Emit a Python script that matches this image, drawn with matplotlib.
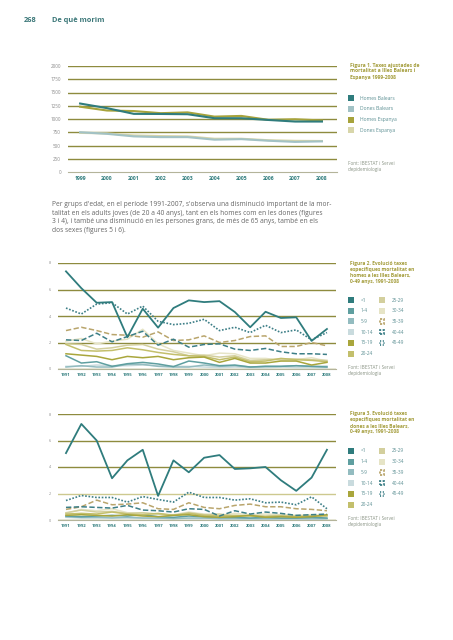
import matplotlib
matplotlib.use('Agg')
import matplotlib.pyplot as plt
from matplotlib.patches import Rectangle
from matplotlib.ticker import MultipleLocator

W, H = 453, 640
plt.rcParams['font.family'] = ['Open Sans', 'DejaVu Sans']

# ---------------- data ----------------
years1 = [1999, 2000, 2001, 2002, 2003, 2004, 2005, 2006, 2007, 2008]
homes_balears = [1292, 1205, 1097, 1095, 1090, 1015, 1015, 982, 952, 952]
dones_balears = [750, 720, 672, 658, 658, 610, 620, 590, 568, 578]
homes_espanya = [1232, 1160, 1150, 1110, 1125, 1045, 1058, 985, 995, 972]
dones_espanya = [738, 728, 690, 678, 672, 628, 628, 600, 588, 585]
series1_labels = ['Homes Balears', 'Dones Balears', 'Homes Espanya', 'Dones Espanya']

years = list(range(1991, 2009))
age_groups = ['<1', '1-4', '5-9', '10-14', '15-19', '20-24',
              '25-29', '30-34', '35-39', '40-44', '45-49']

# Figure 2: men
m_lt1 = [7.37, 6.1, 5.0, 5.05, 2.4, 4.55, 3.12, 4.6, 5.18, 5.05, 5.12, 4.3, 3.15, 4.32, 3.85, 3.9, 2.12, 3.02]
m_1_4 = [1.0, 0.45, 0.55, 0.2, 0.4, 0.5, 0.38, 0.18, 0.6, 0.45, 0.25, 0.3, 0.15, 0.2, 0.2, 0.25, 0.2, 0.15]
m_5_9 = [0.15, 0.25, 0.15, 0.15, 0.35, 0.35, 0.2, 0.15, 0.15, 0.3, 0.2, 0.25, 0.15, 0.2, 0.2, 0.25, 0.2, 0.2]
m_10_14 = [0.2, 0.2, 0.3, 0.25, 0.25, 0.3, 0.25, 0.2, 0.2, 0.15, 0.1, 0.15, 0.1, 0.1, 0.15, 0.1, 0.1, 0.1]
m_15_19 = [1.15, 1.05, 0.95, 0.7, 0.95, 0.85, 0.95, 0.7, 0.85, 0.9, 0.5, 0.8, 0.45, 0.45, 0.6, 0.6, 0.3, 0.5]
m_20_24 = [1.85, 1.4, 1.35, 1.4, 1.6, 1.45, 1.25, 1.1, 1.0, 0.95, 0.7, 0.9, 0.55, 0.6, 0.8, 0.7, 0.65, 0.55]
m_25_29 = [1.9, 1.85, 1.5, 1.6, 1.8, 1.85, 1.5, 1.3, 1.0, 1.05, 0.9, 1.0, 0.65, 0.7, 0.75, 0.75, 0.7, 0.65]
m_30_34 = [2.1, 2.3, 1.9, 2.1, 2.25, 3.0, 1.9, 1.4, 1.2, 1.0, 1.2, 1.15, 0.8, 0.8, 0.65, 0.7, 0.85, 0.6]
m_35_39 = [2.9, 3.15, 2.9, 2.6, 2.55, 2.4, 2.8, 2.15, 2.2, 2.5, 2.0, 2.15, 2.45, 2.5, 1.7, 1.7, 2.0, 1.75]
m_40_44 = [2.2, 2.15, 2.7, 2.05, 2.45, 2.85, 1.8, 2.25, 1.65, 1.85, 1.9, 1.5, 1.4, 1.55, 1.3, 1.15, 1.15, 1.1]
m_45_49 = [4.6, 4.15, 4.9, 5.0, 4.15, 4.75, 3.6, 3.35, 3.45, 3.75, 2.9, 3.15, 2.75, 3.3, 2.75, 2.95, 2.2, 2.75]

# Figure 3: women
w_lt1 = [5.05, 7.25, 6.0, 3.15, 4.5, 5.3, 1.82, 4.5, 3.6, 4.7, 4.9, 3.85, 3.9, 4.0, 3.0, 2.2, 3.2, 5.3]
w_1_4 = [0.3, 0.25, 0.3, 0.35, 0.3, 0.4, 0.25, 0.2, 0.3, 0.25, 0.2, 0.2, 0.15, 0.2, 0.15, 0.15, 0.2, 0.15]
w_5_9 = [0.25, 0.2, 0.2, 0.15, 0.2, 0.15, 0.15, 0.1, 0.15, 0.15, 0.1, 0.1, 0.1, 0.1, 0.1, 0.1, 0.1, 0.1]
w_10_14 = [0.2, 0.15, 0.15, 0.2, 0.15, 0.15, 0.1, 0.15, 0.1, 0.1, 0.1, 0.1, 0.1, 0.05, 0.1, 0.1, 0.05, 0.1]
w_15_19 = [0.35, 0.4, 0.35, 0.3, 0.4, 0.3, 0.25, 0.35, 0.4, 0.25, 0.2, 0.25, 0.35, 0.2, 0.25, 0.2, 0.25, 0.4]
w_20_24 = [0.45, 0.5, 0.45, 0.6, 0.45, 0.4, 0.5, 0.35, 0.5, 0.35, 0.3, 0.35, 0.3, 0.25, 0.3, 0.25, 0.3, 0.3]
w_25_29 = [0.55, 0.75, 0.6, 0.65, 0.5, 0.55, 0.45, 0.35, 0.55, 0.4, 0.45, 0.3, 0.35, 0.3, 0.35, 0.3, 0.3, 0.35]
w_30_34 = [0.5, 0.8, 0.7, 0.85, 0.55, 0.5, 0.45, 0.4, 0.6, 0.45, 0.35, 0.5, 0.4, 0.45, 0.4, 0.35, 0.4, 0.35]
w_35_39 = [0.8, 1.0, 1.5, 1.15, 1.2, 1.3, 0.85, 0.8, 1.3, 0.95, 0.85, 1.1, 1.2, 1.0, 1.0, 0.85, 0.8, 0.7]
w_40_44 = [0.95, 1.0, 0.95, 0.9, 1.1, 0.75, 0.7, 0.6, 0.85, 0.8, 0.3, 0.7, 0.45, 0.6, 0.5, 0.35, 0.4, 0.45]
w_45_49 = [1.47, 1.85, 1.7, 1.7, 1.35, 1.77, 1.55, 1.35, 2.1, 1.7, 1.7, 1.5, 1.6, 1.3, 1.35, 1.15, 1.75, 0.85]

men = [m_lt1, m_1_4, m_5_9, m_10_14, m_15_19, m_20_24, m_25_29, m_30_34, m_35_39, m_40_44, m_45_49]
women = [w_lt1, w_1_4, w_5_9, w_10_14, w_15_19, w_20_24, w_25_29, w_30_34, w_35_39, w_40_44, w_45_49]

# ---------------- styles ----------------
TEAL = '#2f7c7d'
OLIVE_GRID = '#8e8b3e'
TITLE_C = '#a39c3a'
LEG_TXT = '#5d9094'
SRC_C = '#8a9485'
c1 = ['#2f7c7d', '#a2c2c5', '#a7a33b', '#d8d6aa']
age_colors = ['#2f7c7d', '#5f9fa0', '#93bcc0', '#c9dbde', '#a9a63c', '#c3bf6c',
              '#d3cf9d', '#e6e4c6', '#b9a56c', '#3d7f87', '#3d7f87']
age_ls = ['-'] * 8 + [(0, (3.5, 1.6)), (0, (3.5, 1.6)), (0, (1.0, 1.0))]
age_lw = [1.3] + [1.1] * 7 + [1.1, 1.1, 1.2]
draw_order = [3, 2, 1, 7, 6, 5, 4, 8, 9, 10, 0]

fig = plt.figure(figsize=(W / 100, H / 100), dpi=100)


def rect(l, r, t, b):
    return [l / W, 1 - b / H, (r - l) / W, (b - t) / H]


def ftext(x, y, s, **kw):
    fig.text(x / W, 1 - y / H, s, va='center', ha=kw.pop('ha', 'left'), **kw)


def swatch(x, y, color, ls=None):
    if ls is None:
        p = Rectangle((x / W, 1 - (y + 3) / H), 6 / W, 6 / H, transform=fig.transFigure,
                      facecolor=color, edgecolor='none')
    else:
        p = Rectangle(((x + 0.8) / W, 1 - (y + 2.2) / H), 4.4 / W, 4.4 / H, transform=fig.transFigure,
                      facecolor='white', edgecolor=color, linewidth=1.3, linestyle=ls)
    fig.add_artist(p)


def style_axes(ax, xlabsize, ylabsize, grid_c=OLIVE_GRID):
    for s in ['top', 'right', 'left']:
        ax.spines[s].set_visible(False)
    ax.spines['bottom'].set_color('#b4b49a')
    ax.spines['bottom'].set_linewidth(0.8)
    ax.grid(axis='y', color=grid_c, linewidth=1.0)
    ax.set_axisbelow(True)
    ax.tick_params(axis='y', length=0, labelsize=ylabsize, labelcolor='#8a8a8a', pad=5)
    ax.tick_params(axis='x', which='major', length=0, labelsize=xlabsize, labelcolor=TEAL, pad=3)
    ax.xaxis.set_minor_locator(MultipleLocator(1))
    ax.tick_params(axis='x', which='minor', length=2, width=0.5, color='#999999')
    for lab in ax.get_xticklabels():
        lab.set_fontweight('bold')


# ---------------- header ----------------
ftext(24, 20, '268', fontsize=5.3, fontweight='bold', color='#3b7778')
ftext(52, 20, 'De què morim', fontsize=5.3, fontweight='bold', color='#3b7778')

# ---------------- Figure 1 ----------------
ax1 = fig.add_axes(rect(68, 337, 66, 172))
for vals, c in zip([dones_espanya, dones_balears, homes_espanya, homes_balears],
                   [c1[3], c1[1], c1[2], c1[0]]):
    ax1.plot(years1, vals, color=c, linewidth=1.5, solid_joinstyle='round')
ax1.set_ylim(0, 2000)
ax1.set_yticks(range(0, 2001, 250))
ax1.set_xlim(1998.55, 2008.56)
ax1.set_xticks(years1)
style_axes(ax1, 3.7, 3.3)
ax1.yaxis.get_gridlines()[0].set_visible(False)

fig.text(350 / W, 1 - 62.5 / H, 'Figura 1. Taxes ajustades de\nmortalitat a Illes Balears i\nEspanya 1999-2008',
         fontsize=3.65, fontweight='bold', color=TITLE_C, linespacing=1.25, va='top')
for i, (lab, c) in enumerate(zip(series1_labels, c1)):
    y = 98 + i * 10.8
    swatch(348, y, c)
    ftext(360, y, lab, fontsize=3.6, color=LEG_TXT)
fig.text(348 / W, 1 - 161 / H, "Font: IBESTAT i Servei\nd'epidemiologia",
         fontsize=3.35, color=SRC_C, linespacing=1.3, va='top')

# ---------------- paragraph ----------------
para = ["Per grups d'edat, en el període 1991-2007, s'observa una disminució important de la mor-",
        "talitat en els adults joves (de 20 a 40 anys), tant en els homes com en les dones (figures",
        "3 i 4), i també una disminució en les persones grans, de més de 65 anys, també en els",
        "dos sexes (figures 5 i 6)."]
for i, line in enumerate(para):
    ftext(52, 205 + i * 8.4, line, fontsize=4.75, color='#666666')


# ---------------- Figures 2 and 3 ----------------
def age_chart(top, data, title, grid2_c):
    ax = fig.add_axes(rect(58, 336, top, top + 106))
    for k in draw_order:
        ax.plot(years, data[k], color=age_colors[k], linestyle=age_ls[k],
                linewidth=age_lw[k], solid_joinstyle='round')
    ax.set_ylim(0, 8)
    ax.set_yticks([0, 2, 4, 6, 8])
    ax.set_xlim(1990.48, 2008.59)
    ax.set_xticks(years)
    style_axes(ax, 3.05, 2.7)
    ax.yaxis.get_gridlines()[1].set_color(grid2_c)
    fig.text(350 / W, 1 - (top - 2.5) / H, title, fontsize=3.55, fontweight='bold',
             color=TITLE_C, linespacing=1.25, va='top')
    ly0 = top + 37
    for k, lab in enumerate(age_groups):
        col = 0 if k < 6 else 1
        row = k if k < 6 else k - 6
        y = ly0 + row * 10.7
        x = 348 if col == 0 else 379
        if k < 8:
            swatch(x, y, age_colors[k])
        else:
            swatch(x, y, age_colors[k], ls=(0, (1.2, 0.8)) if k < 10 else (0, (0.6, 0.9)))
        ftext(x + 12.5, y, lab, fontsize=3.4, color=LEG_TXT)
    fig.text(348 / W, 1 - (top + 102) / H, "Font: IBESTAT i Servei\nd'epidemiologia",
             fontsize=3.35, color=SRC_C, linespacing=1.3, va='top')
    return ax


age_chart(263, men, 'Figura 2. Evolució taxes\nespecífiques mortalitat en\nhomes a les Illes Balears,\n0-49 anys, 1991-2008',
          OLIVE_GRID)
age_chart(414, women, 'Figura 3. Evolució taxes\nespecífiques mortalitat en\ndones a les Illes Balears,\n0-49 anys, 1991-2008',
          '#cdc98f')

fig.savefig('out.png', dpi=100, facecolor='white')
